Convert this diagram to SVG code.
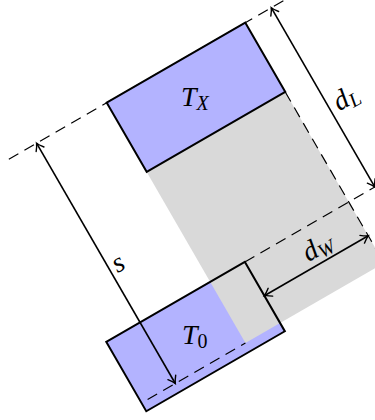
<svg xmlns="http://www.w3.org/2000/svg" width="375" height="420" viewBox="0 0 375 420">
<style>
.box{stroke:#000;stroke-width:2;fill:#b3b3ff}
.dash{stroke:#000;stroke-width:1.2;fill:none;stroke-dasharray:11 7}
.arr{stroke:#000;stroke-width:1.6;fill:none;marker-start:url(#ah);marker-end:url(#ah)}
.lbl{font-family:"Liberation Serif","DejaVu Serif",serif;font-style:italic;font-size:28px;fill:#000}
.sub{font-size:20px}
.up{font-style:normal}
</style>
<defs>
<marker id="ah" viewBox="-10 -6 12 12" refX="0" refY="0" markerWidth="12" markerHeight="12" markerUnits="userSpaceOnUse" orient="auto-start-reverse">
<path d="M-7,-4.5 Q-2.5,-1 0,0 Q-2.5,1 -7,4.5" fill="none" stroke="#000" stroke-width="1.4" stroke-linecap="round"/>
</marker>
</defs>
<rect width="375" height="420" fill="#fff"/>
<g transform="translate(106.7,102.7) rotate(-30)">
<rect id="T0fill" x="-120" y="207" width="160" height="80" fill="#b3b3ff"/>
<rect id="sweep" x="0" y="80" width="160" height="197.5" fill="#d9d9d9"/>
<g id="guides">
<line class="dash" x1="-113" y1="0" x2="250" y2="0"/>
<line class="dash" x1="160" y1="80" x2="160" y2="320"/>
<line class="dash" x1="40" y1="207" x2="250" y2="207"/>
<line class="dash" x1="-113" y1="277.5" x2="0" y2="277.5"/>
</g>
<g id="T_0"><rect x="-120" y="207" width="160" height="80" fill="none" stroke="#000" stroke-width="2"/></g>
<g id="T_X"><rect class="box" x="0" y="0" width="160" height="80"/></g>
<g id="connectors">
<line class="arr" x1="-81" y1="0" x2="-81" y2="277.5"/>
<line class="arr" x1="190" y1="0" x2="190" y2="207"/>
<line class="arr" x1="40" y1="246" x2="160" y2="246"/>
</g>
<text class="lbl" x="197" y="124">d<tspan class="sub" dy="4">L</tspan></text>
<text class="lbl" x="95" y="239">d<tspan class="sub" dy="4">W</tspan></text>
<text class="lbl" x="-76" y="153">s</text>
</g>
<text class="lbl" x="181" y="106">T<tspan class="sub" dy="4">X</tspan></text>
<text class="lbl" x="182" y="344">T<tspan class="sub up" dy="4">0</tspan></text>
</svg>
